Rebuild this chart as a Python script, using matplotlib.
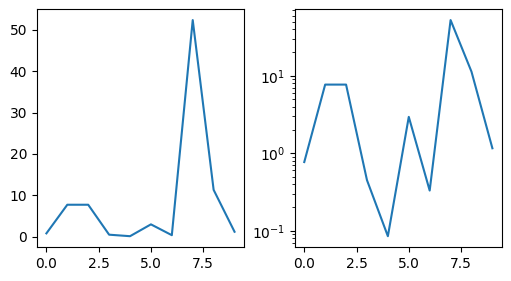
import matplotlib
matplotlib.use("Agg")
import matplotlib.pyplot as plt

x = [0, 1, 2, 3, 4, 5, 6, 7, 8, 9]
y = [0.77, 7.7, 7.7, 0.45, 0.085, 2.95, 0.33, 52.4, 11.3, 1.16]

fig, (ax1, ax2) = plt.subplots(1, 2, figsize=(5.11, 2.81), dpi=100)
fig.subplots_adjust(left=0.0724, right=0.982, bottom=0.121, top=0.967, wspace=0.246)

ax1.plot(x, y)
ax2.plot(x, y)
ax2.set_yscale('log')

fig.savefig("out.png")
